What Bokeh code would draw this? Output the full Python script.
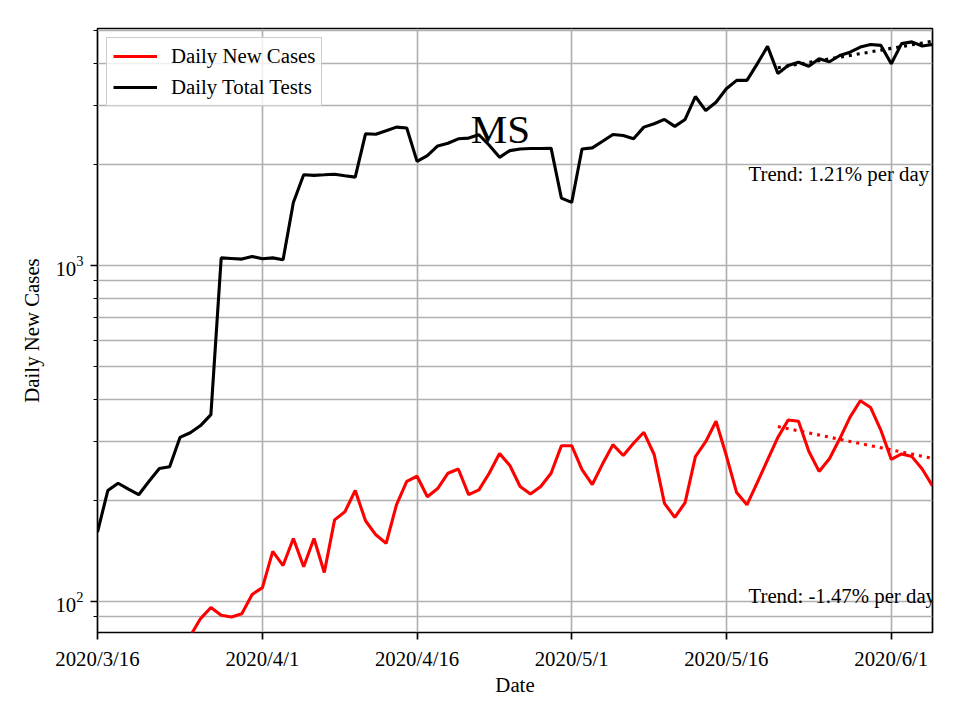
import numpy as np
import pandas as pd
from bokeh.plotting import figure
from bokeh.models import Range1d, FixedTicker, Label, Legend, LegendItem
from bokeh.embed import file_html
from bokeh.resources import INLINE

# ---------------- data ----------------
start_date = "2020-03-16"

daily_new_cases = [
    14, 18, 22, 28, 34, 42, 50, 58, 68, 79,
    89, 96, 91, 90, 92, 105, 110, 141, 128, 154,
    127, 154, 122, 175, 185, 214, 174, 158, 149, 194,
    228, 236, 205, 217, 241, 248, 208, 215, 241, 276,
    254, 220, 209, 220, 241, 291, 291, 247, 223, 257,
    293, 272, 296, 319, 274, 196, 178, 197, 270, 299,
    344, 272, 211, 194, 226, 264, 308, 347, 344, 280,
    244, 266, 305, 354, 396, 378, 323, 265, 275, 270,
    248, 221,
]

daily_total_tests = [
    161, 214, 225, 216, 208, 228, 249, 252, 308, 318,
    334, 360, 1054, 1050, 1045, 1064, 1048, 1054, 1040, 1541,
    1862, 1855, 1862, 1870, 1850, 1833, 2466, 2460, 2518, 2582,
    2565, 2042, 2124, 2270, 2312, 2383, 2395, 2450, 2280, 2099,
    2198, 2223, 2230, 2230, 2235, 1588, 1541, 2223, 2240, 2344,
    2455, 2438, 2383, 2582, 2643, 2722, 2595, 2722, 3184, 2892,
    3061, 3358, 3556, 3556, 3984, 4489, 3731, 3937, 4028, 3920,
    4125, 4040, 4218, 4315, 4467, 4550, 4520, 3984, 4575, 4630,
    4500, 4550,
]

x_tick_dates = ["2020-03-16", "2020-04-01", "2020-04-16", "2020-05-01", "2020-05-16", "2020-06-01"]
x_tick_labels = ["2020/3/16", "2020/4/1", "2020/4/16", "2020/5/1", "2020/5/16", "2020/6/1"]
y_major_ticks = [100, 1000]
y_minor_ticks = [90, 200, 300, 400, 500, 600, 700, 800, 900, 2000, 3000, 4000, 5000]

trend_window = 16
cases_trend_text = "Trend: -1.47% per day"
tests_trend_text = "Trend: 1.21% per day"
chart_title = "MS"
series_names = ["Daily New Cases", "Daily Total Tests"]

# ---------------- layout / style constants ----------------
FONT = "Liberation Serif"
FS = "20.8px"
GRID = "#b0b0b0"
Y_LO, Y_HI = 80.9, 5075
trend_text_day = 63.15
tests_trend_text_y = 1885
cases_trend_text_y = 104.4
title_day = 36.2
title_y = 2553

dates = pd.date_range(start_date, periods=len(daily_total_tests), freq="D")
day = np.asarray((dates - dates[0]).days, dtype=float)
tick_pos = [int((pd.Timestamp(d) - dates[0]).days) for d in x_tick_dates]


def trend(values):
    xs = day[-trend_window:]
    ys = np.log10(np.asarray(values[-trend_window:], dtype=float))
    k, b = np.polyfit(xs, ys, 1)
    return xs, 10 ** (k * xs + b)


p = figure(
    frame_width=835, frame_height=604,
    y_axis_type="log",
    x_range=Range1d(day[0], day[-1]),
    y_range=Range1d(Y_LO, Y_HI),
    output_backend="svg", toolbar_location=None,
    min_border_left=97, min_border_top=28, min_border_right=20, min_border_bottom=80,
    background_fill_color="white", border_fill_color="white",
)

p.outline_line_color = "black"
p.outline_line_width = 1.7
p.outline_line_alpha = 1.0

# axes
for ax in (p.xaxis[0], p.yaxis[0]):
    ax.axis_line_color = None
    ax.major_tick_line_color = "black"
    ax.major_tick_line_width = 1.7
    ax.major_tick_in = 0
    ax.major_tick_out = 7
    ax.major_label_text_font = FONT
    ax.major_label_text_font_size = FS
    ax.major_label_text_color = "black"
    ax.major_label_standoff = 7
    ax.axis_label_text_font = FONT
    ax.axis_label_text_font_size = FS
    ax.axis_label_text_font_style = "normal"
    ax.axis_label_text_color = "black"

p.xaxis.ticker = FixedTicker(ticks=tick_pos, minor_ticks=[])
p.xaxis.major_label_overrides = {t: lab for t, lab in zip(tick_pos, x_tick_labels)}
p.xaxis.minor_tick_line_color = None
p.xaxis.axis_label = "Date"
p.xaxis.axis_label_standoff = 0

p.yaxis.ticker = FixedTicker(ticks=y_major_ticks, minor_ticks=y_minor_ticks)
p.yaxis.minor_tick_line_color = "black"
p.yaxis.minor_tick_line_width = 1.2
p.yaxis.minor_tick_in = 0
p.yaxis.minor_tick_out = 4
p.yaxis.axis_label = "Daily New Cases"
p.yaxis.axis_label_standoff = 9

# grids
p.xgrid.grid_line_color = GRID
p.xgrid.grid_line_width = 1.67
p.ygrid.grid_line_color = GRID
p.ygrid.grid_line_width = 1.67
p.ygrid.minor_grid_line_color = GRID
p.ygrid.minor_grid_line_width = 1.67

# series
r_cases = p.line(day, daily_new_cases, line_color="#ff0000", line_width=3.1)
r_tests = p.line(day, daily_total_tests, line_color="black", line_width=3.1)

tx, ty = trend(daily_new_cases)
p.line(tx, ty, line_color="#ff0000", line_width=3.1, line_dash="3 5")
tx2, ty2 = trend(daily_total_tests)
p.line(tx2, ty2, line_color="black", line_width=3.1, line_dash="3 5")

# texts
p.add_layout(Label(x=trend_text_day, y=tests_trend_text_y, text=tests_trend_text,
                   text_font=FONT, text_font_size=FS, text_color="black",
                   text_align="left", text_baseline="middle"))
p.add_layout(Label(x=trend_text_day, y=cases_trend_text_y, text=cases_trend_text,
                   text_font=FONT, text_font_size=FS, text_color="black",
                   text_align="left", text_baseline="middle"))
p.add_layout(Label(x=title_day, y=title_y, text=chart_title,
                   text_font=FONT, text_font_size="41px", text_color="black",
                   text_align="left", text_baseline="middle"))

legend = Legend(
    items=[LegendItem(label=series_names[0], renderers=[r_cases]),
           LegendItem(label=series_names[1], renderers=[r_tests])],
    location="top_left", margin=9, padding=6, spacing=7,
    glyph_width=44, glyph_height=18, label_height=18, label_standoff=14,
    label_text_font=FONT, label_text_font_size=FS, label_text_color="black",
    border_line_color="#cccccc", border_line_width=1.7, border_line_alpha=1.0,
    background_fill_color="white", background_fill_alpha=0.8,
)
p.add_layout(legend)

open("out.html", "w").write(file_html(p, INLINE))
